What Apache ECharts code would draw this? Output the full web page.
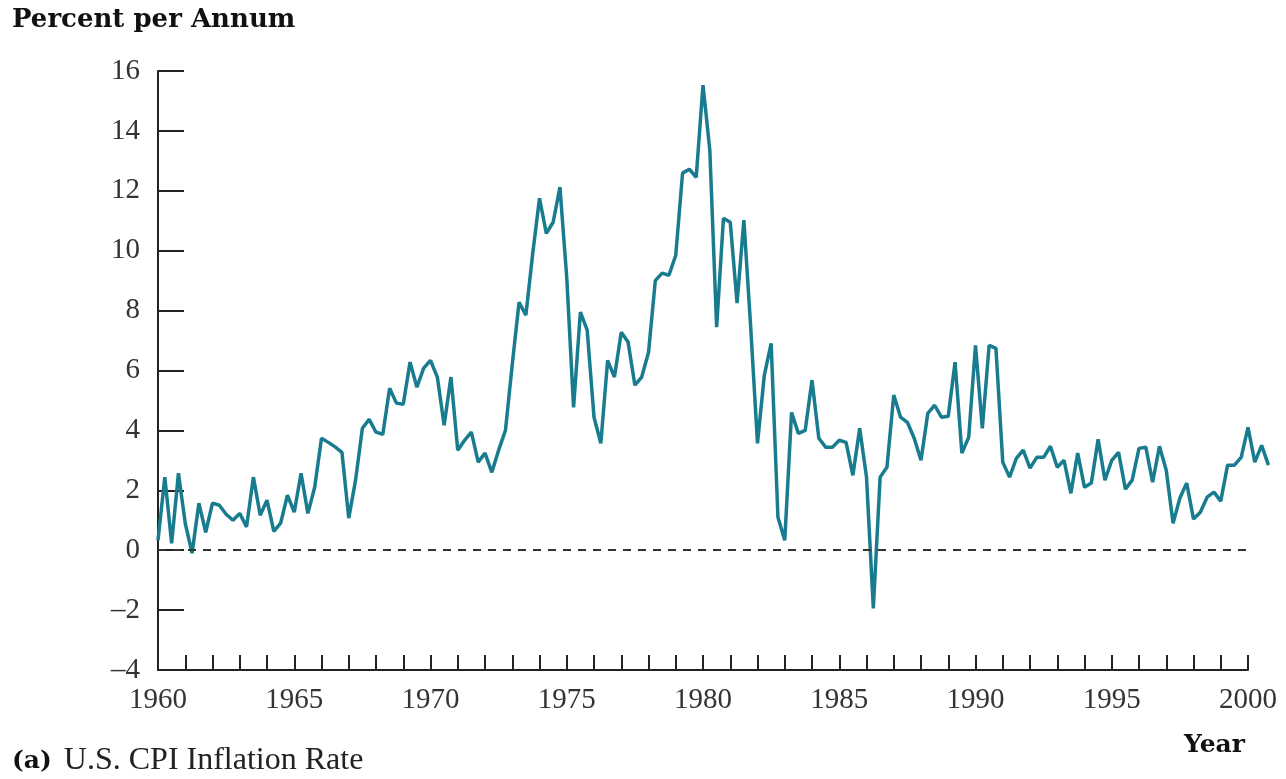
<!DOCTYPE html>
<html>
<head>
<meta charset="utf-8">
<script src="https://cdn.jsdelivr.net/npm/echarts@6/dist/echarts.min.js"></script>
<style>
  html, body { margin: 0; padding: 0; background: #fff; }
  #chart { width: 1286px; height: 779px; }
</style>
</head>
<body>
<div id="chart"></div>
<script>
// quarterly CPI inflation, percent per annum
const startYear = 1960
const cpi1960s = [
  0.33, 2.44, 0.23, 2.57,
  0.9, -0.1, 1.57, 0.6,
  1.57, 1.5, 1.2, 1.0,
  1.23, 0.78, 2.44, 1.17,
  1.67, 0.63, 0.9, 1.84,
  1.27, 2.57, 1.23, 2.1,
  3.74, 3.6, 3.45, 3.27,
  1.07, 2.34, 4.07, 4.37,
  3.94, 3.87, 5.41, 4.91,
  4.87, 6.28, 5.44, 6.08
]
const cpi1970s = [
  6.34, 5.78, 4.17, 5.78,
  3.34, 3.67, 3.94, 2.94,
  3.24, 2.6, 3.34, 4.0,
  6.2, 8.28, 7.85, 9.9,
  11.75, 10.58, 10.95, 12.12,
  9.1, 4.77, 7.95, 7.35,
  4.44, 3.57, 6.34, 5.78,
  7.28, 6.95, 5.51, 5.78,
  6.6, 9.0, 9.25, 9.18,
  9.85, 12.59, 12.72, 12.45
]
const cpi1980s = [
  15.53, 13.36, 7.45, 11.08,
  10.95, 8.25, 11.02, 7.45,
  3.57, 5.84, 6.91, 1.1,
  0.33, 4.6, 3.9, 4.0,
  5.68, 3.74, 3.44, 3.44,
  3.67, 3.6, 2.5, 4.07,
  2.44, -1.94, 2.44, 2.77,
  5.18, 4.44, 4.27, 3.74,
  3.0, 4.57, 4.84, 4.44,
  4.47, 6.28, 3.24, 3.77
]
const cpi1990s = [
  6.84, 4.07, 6.84, 6.74,
  2.94, 2.44, 3.07, 3.34,
  2.74, 3.1, 3.1, 3.47,
  2.77, 3.0, 1.9, 3.24,
  2.1, 2.24, 3.7, 2.34,
  3.0, 3.27, 2.04, 2.34,
  3.4, 3.44, 2.27, 3.47,
  2.67, 0.9, 1.74, 2.24,
  1.04, 1.27, 1.77, 1.94,
  1.64, 2.84, 2.84, 3.1
]
const cpi2000s = [4.1, 2.94, 3.5, 2.84]

const yTicks = { min: -4, max: 16, step: 2 }
const xTicks = { min: 1960, max: 2000, step: 5 }
// the data runs a little past the last labelled year
const dataEndYear = 2001

const cpiAll = [...cpi1960s, ...cpi1970s, ...cpi1980s, ...cpi1990s, ...cpi2000s]
const seriesData = cpiAll.map((v, i) => [startYear + i / 4, v])

const axisColor = '#222'
const labelFont = 'Liberation Serif'
const plotLeft = 158, plotTop = 71, plotWidth = 1090, plotHeight = 599
// second (hidden) grid is wider so the line can run past 2000
const wideWidth = plotWidth * (dataEndYear - xTicks.min) / (xTicks.max - xTicks.min)

const chart = echarts.init(document.getElementById('chart'))
chart.setOption({
  animation: false,
  grid: [
    { left: plotLeft, top: plotTop, width: plotWidth, height: plotHeight },
    { left: plotLeft, top: plotTop, width: wideWidth, height: plotHeight }
  ],
  xAxis: [
    {
      type: 'value', gridIndex: 0,
      min: xTicks.min, max: xTicks.max, interval: xTicks.step,
      axisLine: { onZero: false, lineStyle: { color: axisColor, width: 2 } },
      axisTick: { inside: true, length: 15, lineStyle: { color: axisColor, width: 2 } },
      minorTick: { show: true, splitNumber: 5, length: 15, lineStyle: { color: axisColor, width: 2 } },
      splitLine: { show: false },
      axisLabel: { fontFamily: labelFont, fontSize: 29, color: '#333', margin: 16, formatter: v => String(v) }
    },
    {
      type: 'value', gridIndex: 1, show: false,
      min: xTicks.min, max: dataEndYear
    }
  ],
  yAxis: [
    {
      type: 'value', gridIndex: 0,
      min: yTicks.min, max: yTicks.max, interval: yTicks.step,
      axisLine: { show: true, onZero: false, lineStyle: { color: axisColor, width: 2 } },
      axisTick: { show: true, inside: true, length: 26, lineStyle: { color: axisColor, width: 2 } },
      splitLine: { show: false },
      axisLabel: {
        fontFamily: labelFont, fontSize: 29, color: '#333', margin: 18,
        formatter: v => String(v).replace('-', '–')
      }
    },
    {
      type: 'value', gridIndex: 1, show: false,
      min: yTicks.min, max: yTicks.max, interval: yTicks.step
    }
  ],
  graphic: [
    {
      type: 'text', left: 12, top: 7,
      style: { text: 'Percent per Annum', font: 'bold 26px "DejaVu Serif"', fill: '#111' }
    },
    {
      type: 'text', left: 1184, top: 733,
      style: { text: 'Year', font: 'bold 25px "DejaVu Serif"', fill: '#111' }
    },
    {
      type: 'text', left: 12, top: 745,
      style: {
        text: '{b|(a)}{r|U.S. CPI Inflation Rate}',
        rich: {
          b: { fontFamily: 'DejaVu Serif', fontWeight: 'bold', fontSize: 25, fill: '#111', padding: [0, 12, 0, 0] },
          r: { fontFamily: labelFont, fontSize: 32, fill: '#222' }
        }
      }
    }
  ],
  series: [{
    type: 'line',
    xAxisIndex: 1, yAxisIndex: 1,
    data: seriesData,
    showSymbol: false,
    lineStyle: { color: '#187c8e', width: 3.5 },
    markLine: {
      silent: true,
      symbol: 'none',
      label: { show: false },
      lineStyle: { type: [8, 7], color: '#333', width: 2 },
      data: [[{ coord: [xTicks.min, 0] }, { coord: [xTicks.max, 0] }]]
    }
  }]
})
</script>
</body>
</html>
